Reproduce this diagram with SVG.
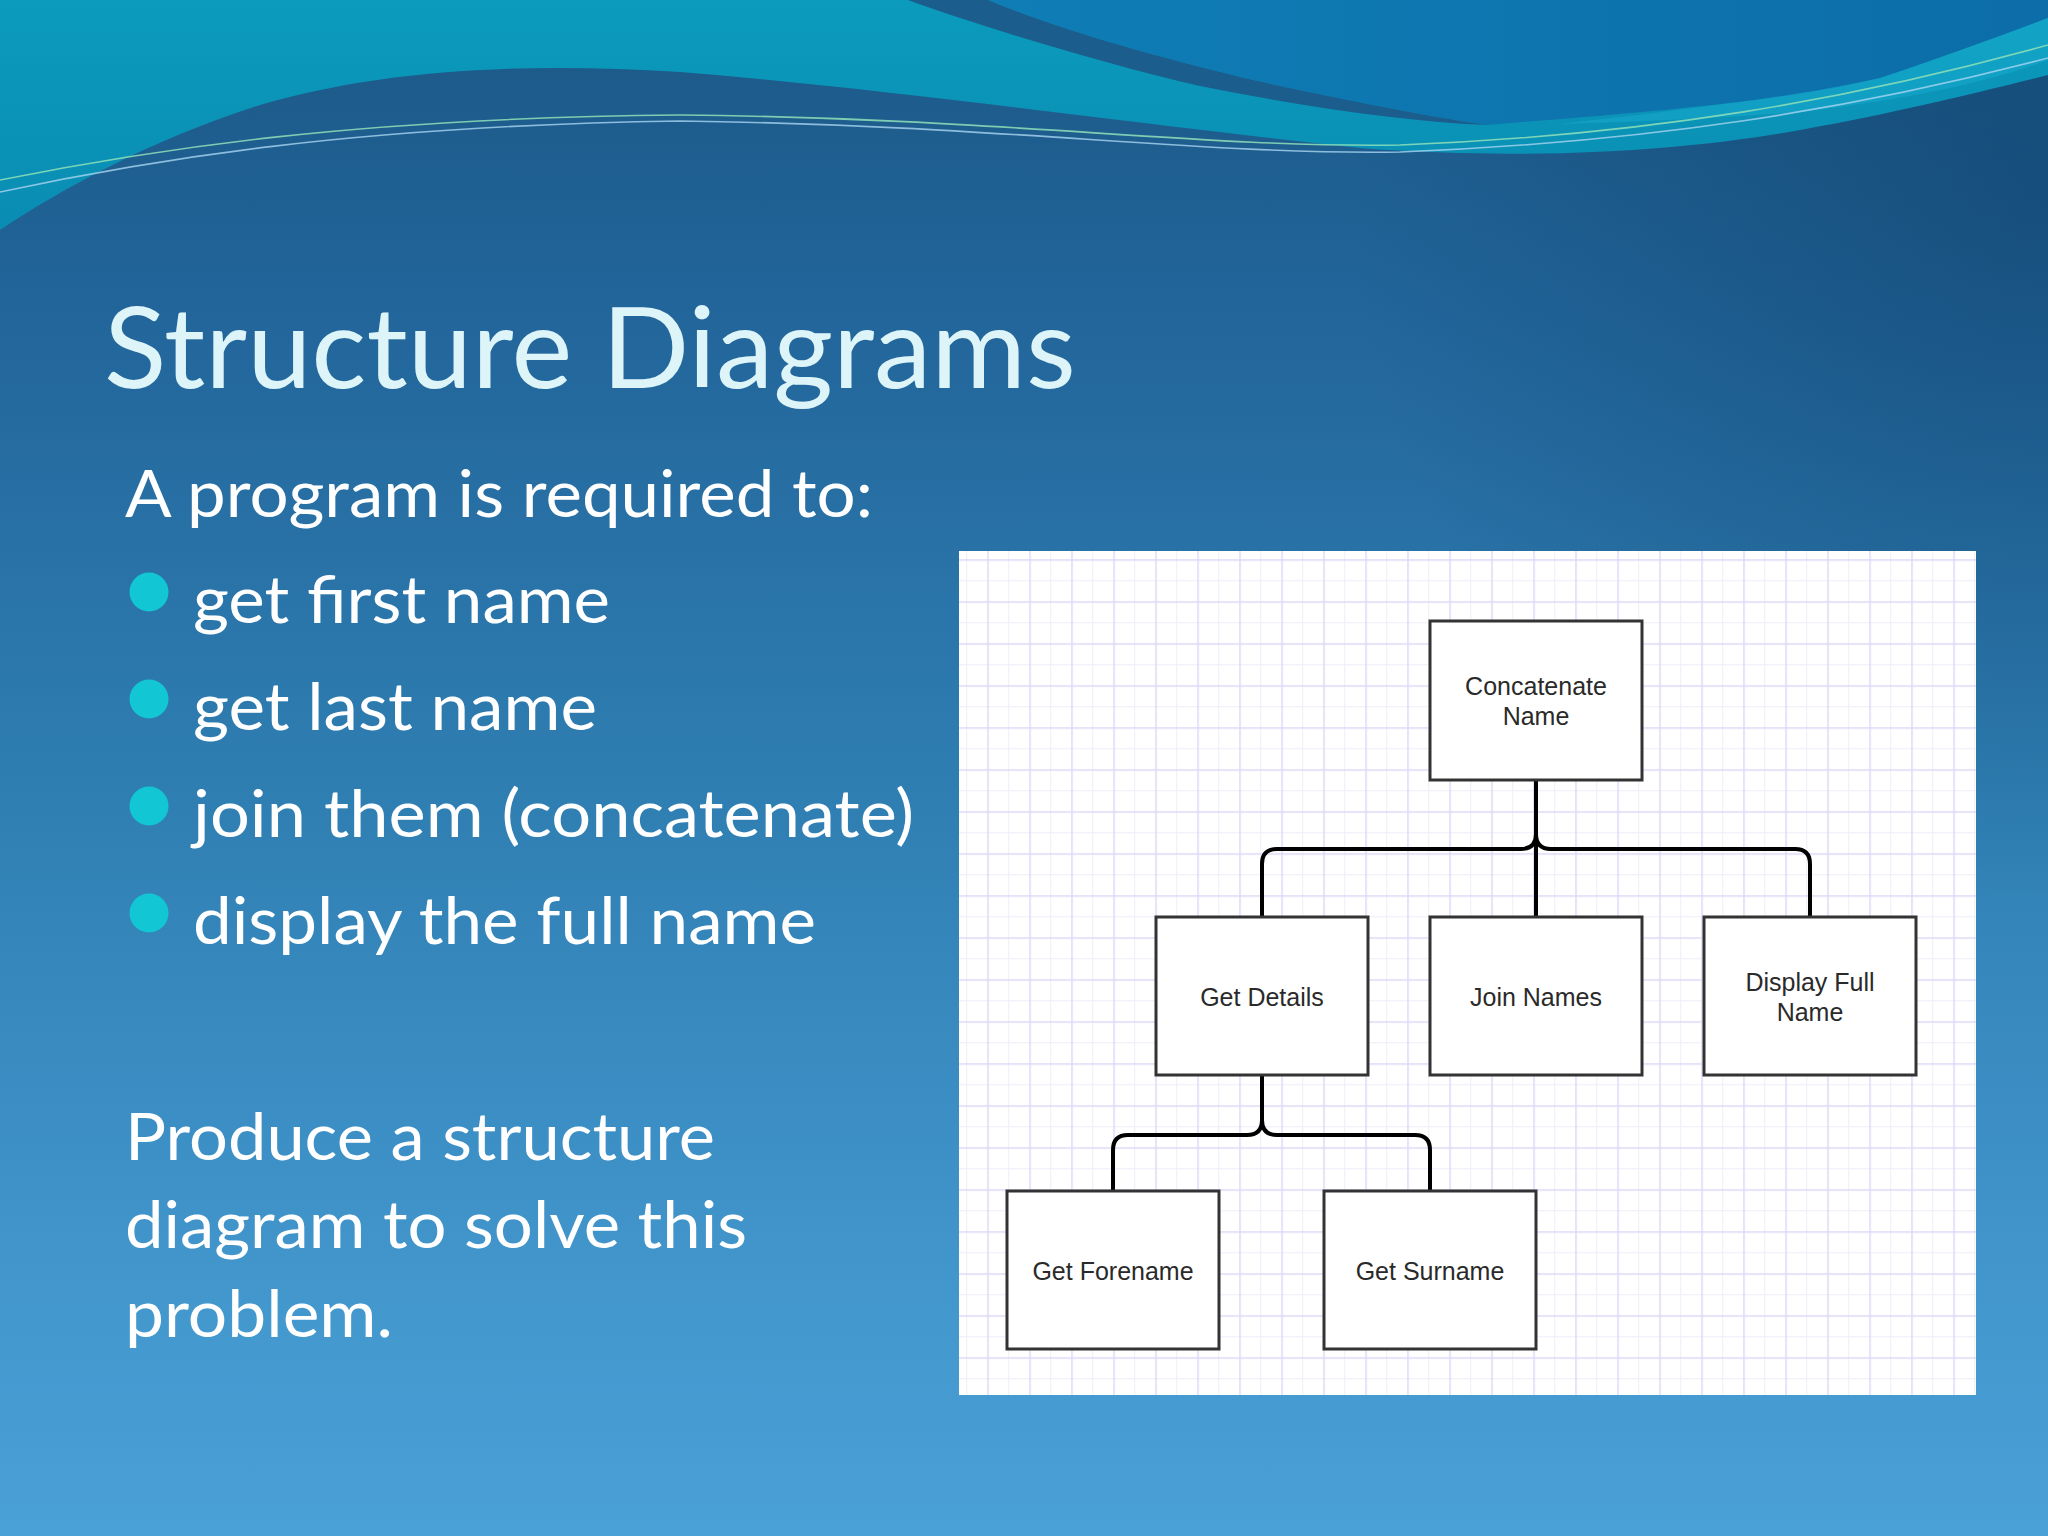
<svg xmlns="http://www.w3.org/2000/svg" width="2048" height="1536" viewBox="0 0 2048 1536">
<style>
.box{fill:#ffffff;stroke:#333333;stroke-width:3}
.lbl{font-family:"Liberation Sans",Arial,sans-serif;font-size:25px;fill:#2a2a2a;text-anchor:middle}
.conn{fill:none;stroke:#000000;stroke-width:4}
.title{font-family:Lato,"Open Sans",sans-serif;font-size:112px;fill:#DDF4F8}
.body{font-family:Lato,"Open Sans",sans-serif;font-size:66px;fill:#ffffff}
.bullet{fill:#12C6D4}
.wl1{fill:none;stroke:#8FE0B8;stroke-width:1.6;opacity:0.85}
.wl2{fill:none;stroke:#A9D6F0;stroke-width:1.6;opacity:0.8}
</style>
<defs>
<linearGradient id="bg" x1="0" y1="0" x2="0" y2="1">
<stop offset="0" stop-color="#1B5886"/>
<stop offset="0.2" stop-color="#22659A"/>
<stop offset="0.5" stop-color="#2E7DB1"/>
<stop offset="0.8" stop-color="#4094CA"/>
<stop offset="1" stop-color="#4AA1D7"/>
</linearGradient>
<radialGradient id="vig" cx="2048" cy="200" r="700" gradientUnits="userSpaceOnUse">
<stop offset="0" stop-color="#0B3A63" stop-opacity="0.45"/>
<stop offset="1" stop-color="#0B3A63" stop-opacity="0"/>
</radialGradient>
<linearGradient id="cy" x1="0" y1="0" x2="0" y2="1">
<stop offset="0" stop-color="#0B9BBC"/>
<stop offset="1" stop-color="#0A8CB3"/>
</linearGradient>
<linearGradient id="tr" x1="0" y1="0" x2="1" y2="0">
<stop offset="0" stop-color="#0F7DB6"/>
<stop offset="1" stop-color="#0C6DA8"/>
</linearGradient>
<pattern id="grid" patternUnits="userSpaceOnUse" x="987.25" y="601.25" width="42" height="42">
<rect width="42" height="42" fill="#ffffff"/>
<path d="M21.5,0V42M0,21.5H42" stroke="#EFEEFB" stroke-width="1"/>
<path d="M0.75,0V42M0,0.75H42" stroke="#DCD9F5" stroke-width="1.5"/>
</pattern>
</defs>

<g id="background">
<rect x="0" y="0" width="2048" height="1536" fill="url(#bg)"/>
<rect x="0" y="0" width="2048" height="1536" fill="url(#vig)"/>
<path d="M0,0 L2048,0 L2048,75 C1980,92 1900,112 1800,130 C1700,148 1550,162 1360,148 C1100,120 900,90 680,72 C520,62 380,70 260,105 C150,140 60,190 0,230 Z" fill="url(#cy)"/>
<path d="M988,0 L2048,0 L2048,18 C1990,40 1940,58 1880,78 C1800,98 1700,108 1487,125 C1420,115 1330,97 1244,78 C1150,55 1060,30 988,0 Z" fill="url(#tr)"/>
<path d="M1880,78 C1940,58 1990,40 2048,18 L2048,60 C1980,85 1900,100 1800,112 C1720,118 1640,122 1560,124 C1680,110 1790,98 1880,78 Z" fill="#16A8CB" opacity="0.6"/>
<path d="M908,0 L988,0 C1060,30 1150,55 1244,78 C1330,97 1420,115 1487,125 C1400,121 1300,106 1200,86 C1100,63 980,26 908,0 Z" fill="#1B5D8D"/>
<path class="wl1" d="M0,180 C150,150 350,118 680,115 C1000,118 1200,148 1400,145 C1650,135 1850,100 2048,45"/>
<path class="wl2" d="M0,192 C150,160 350,126 680,121 C1000,125 1200,155 1400,152 C1650,142 1850,110 2048,58"/>
</g>

<g id="slide-text">
<text class="title" x="104" y="388" textLength="972" lengthAdjust="spacingAndGlyphs">Structure Diagrams</text>
<text class="body" x="125" y="517" textLength="748" lengthAdjust="spacingAndGlyphs">A program is required to:</text>
<circle class="bullet" cx="149" cy="592" r="19.5"/>
<text class="body" x="193" y="623" textLength="417" lengthAdjust="spacingAndGlyphs">get first name</text>
<circle class="bullet" cx="149" cy="699" r="19.5"/>
<text class="body" x="193" y="730" textLength="404" lengthAdjust="spacingAndGlyphs">get last name</text>
<circle class="bullet" cx="149" cy="806" r="19.5"/>
<text class="body" x="193" y="837" textLength="721" lengthAdjust="spacingAndGlyphs">join them (concatenate)</text>
<circle class="bullet" cx="149" cy="913" r="19.5"/>
<text class="body" x="193" y="944" textLength="623" lengthAdjust="spacingAndGlyphs">display the full name</text>
<text class="body" x="125" y="1160" textLength="590" lengthAdjust="spacingAndGlyphs">Produce a structure</text>
<text class="body" x="125" y="1248" textLength="622" lengthAdjust="spacingAndGlyphs">diagram to solve this</text>
<text class="body" x="125" y="1337" textLength="268" lengthAdjust="spacingAndGlyphs">problem.</text>
</g>

<g id="panel">
<rect x="959" y="551" width="1017" height="844" fill="url(#grid)"/>
</g>

<g id="connectors">
<path class="conn" d="M1536,780 V834 Q1536,849 1521,849 H1277 Q1262,849 1262,864 V917"/>
<path class="conn" d="M1536,780 V917"/>
<path class="conn" d="M1536,780 V834 Q1536,849 1551,849 H1795 Q1810,849 1810,864 V917"/>
<path class="conn" d="M1262,1075 V1120 Q1262,1135 1247,1135 H1128 Q1113,1135 1113,1150 V1191"/>
<path class="conn" d="M1262,1075 V1120 Q1262,1135 1277,1135 H1415 Q1430,1135 1430,1150 V1191"/>
</g>

<g id="node-concatenate-name">
<rect class="box" x="1430" y="621" width="212" height="159"/>
<text class="lbl" x="1536" y="695">Concatenate</text>
<text class="lbl" x="1536" y="725">Name</text>
</g>
<g id="node-get-details">
<rect class="box" x="1156" y="917" width="212" height="158"/>
<text class="lbl" x="1262" y="1006">Get Details</text>
</g>
<g id="node-join-names">
<rect class="box" x="1430" y="917" width="212" height="158"/>
<text class="lbl" x="1536" y="1006">Join Names</text>
</g>
<g id="node-display-full-name">
<rect class="box" x="1704" y="917" width="212" height="158"/>
<text class="lbl" x="1810" y="991">Display Full</text>
<text class="lbl" x="1810" y="1021">Name</text>
</g>
<g id="node-get-forename">
<rect class="box" x="1007" y="1191" width="212" height="158"/>
<text class="lbl" x="1113" y="1280">Get Forename</text>
</g>
<g id="node-get-surname">
<rect class="box" x="1324" y="1191" width="212" height="158"/>
<text class="lbl" x="1430" y="1280">Get Surname</text>
</g>
</svg>
